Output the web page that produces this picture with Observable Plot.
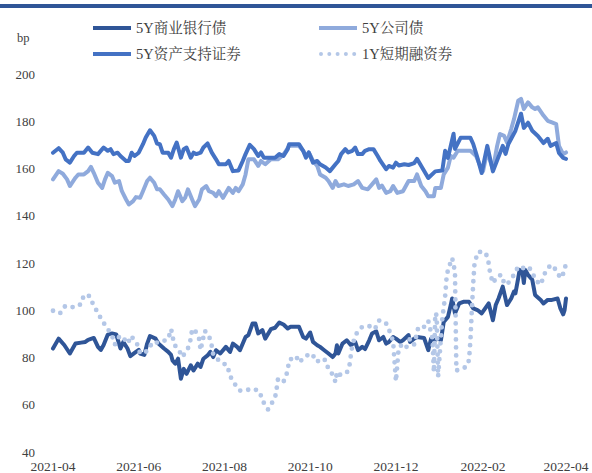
<!DOCTYPE html>
<html><head><meta charset="utf-8">
<script src="https://cdn.jsdelivr.net/npm/d3@7"></script>
<script src="https://cdn.jsdelivr.net/npm/@observablehq/plot@0.6"></script>
<style>
body{margin:0;background:#fff;}
#wrap{position:relative;width:592px;height:473px;font-family:"Liberation Serif","Noto Serif CJK SC","Noto Sans CJK SC",serif;color:#404040;overflow:hidden;}
#bar{position:absolute;left:0;top:4px;width:592px;height:4px;background:#2F5597;}
#chart{position:absolute;left:0;top:0;}
.lg{position:absolute;display:flex;align-items:center;font-size:14.5px;white-space:nowrap;line-height:1;}
.lg svg{margin-right:5px;}
#bp{position:absolute;left:17px;top:31px;font-size:12.5px;}
</style></head>
<body>
<div id="wrap">
  <div id="bar"></div>
  <div id="chart"></div>
  <div id="bp">bp</div>
  <div id="legend"></div>
</div>
<script>
// ---- data ----
const seriesNames = ["5Y商业银行债", "5Y公司债", "5Y资产支持证券", "1Y短期融资券"];
const seriesColors = ["#2F5597", "#8FAADC", "#4472C4", "#B4C7E7"];
const yTicks = [40, 60, 80, 100, 120, 140, 160, 180, 200];
const xTickLabels = ["2021-04", "2021-06", "2021-08", "2021-10", "2021-12", "2022-02", "2022-04"];

const bank = [["2021-04-01",84],["2021-04-05",88.2],["2021-04-09",85.5],["2021-04-13",81.9],["2021-04-17",86.1],["2021-04-21",86.5],["2021-04-24",86.8],["2021-04-26",87.7],["2021-04-30",88.5],["2021-05-03",84.7],["2021-05-05",83.4],["2021-05-07",85.5],["2021-05-10",89.9],["2021-05-13",90.4],["2021-05-16",90],["2021-05-19",84],["2021-05-21",86.8],["2021-05-24",84],["2021-05-26",80.8],["2021-05-30",82.6],["2021-06-01",83.4],["2021-06-02",81.9],["2021-06-05",81.3],["2021-06-07",86.1],["2021-06-09",89.3],["2021-06-13",88.2],["2021-06-15",86.1],["2021-06-19",84],["2021-06-22",82.6],["2021-06-24",81.3],["2021-06-25",79],["2021-06-27",77.6],["2021-06-29",79.7],["2021-07-01",71.2],["2021-07-03",75.4],["2021-07-05",73.3],["2021-07-08",76.9],["2021-07-10",74.7],["2021-07-13",77.6],["2021-07-15",76.2],["2021-07-17",79.7],["2021-07-20",81.1],["2021-07-22",82.6],["2021-07-24",80.4],["2021-07-26",83.3],["2021-07-29",81.9],["2021-08-02",84.7],["2021-08-05",82.6],["2021-08-07",86.1],["2021-08-10",84.7],["2021-08-12",83.3],["2021-08-16",88.9],["2021-08-18",89.7],["2021-08-21",94.6],["2021-08-23",94.6],["2021-08-25",90.4],["2021-08-28",91.8],["2021-08-30",88.2],["2021-09-03",92.2],["2021-09-06",92.8],["2021-09-09",95],["2021-09-12",94.2],["2021-09-15",92.5],["2021-09-17",93.2],["2021-09-23",93.2],["2021-09-26",88.9],["2021-09-28",88.2],["2021-10-01",90.8],["2021-10-03",86.8],["2021-10-06",85.4],["2021-10-08",84.7],["2021-10-11",83.3],["2021-10-14",81.9],["2021-10-17",80.4],["2021-10-19",81.9],["2021-10-20",85.4],["2021-10-21",81.9],["2021-10-24",86.1],["2021-10-27",87.5],["2021-10-30",85.4],["2021-11-02",86.8],["2021-11-04",83.3],["2021-11-07",84.7],["2021-11-09",83.8],["2021-11-12",87.5],["2021-11-14",90.4],["2021-11-17",91.3],["2021-11-19",87.5],["2021-11-22",88.9],["2021-11-24",86.1],["2021-11-26",86.8],["2021-11-29",88.9],["2021-12-01",88.2],["2021-12-04",86.8],["2021-12-06",87.5],["2021-12-10",89.7],["2021-12-11",86.8],["2021-12-14",88.2],["2021-12-16",88.9],["2021-12-21",88.5],["2021-12-24",83.3],["2021-12-26",88.2],["2021-12-28",87.5],["2021-12-31",88.2],["2022-01-02",87.5],["2022-01-04",95.3],["2022-01-07",97.4],["2022-01-09",102.4],["2022-01-10",105.2],["2022-01-12",98.9],["2022-01-15",103.1],["2022-01-18",103.8],["2022-01-22",103.8],["2022-01-25",101],["2022-01-28",100.3],["2022-01-31",98.9],["2022-02-05",103.1],["2022-02-08",96],["2022-02-10",102.4],["2022-02-12",105.2],["2022-02-15",110.2],["2022-02-18",102.4],["2022-02-21",105.2],["2022-02-23",108.1],["2022-02-24",107.4],["2022-02-26",113.8],["2022-02-27",117.3],["2022-03-01",116.6],["2022-03-02",111.7],["2022-03-03",117.3],["2022-03-05",115.2],["2022-03-08",113.1],["2022-03-10",106.7],["2022-03-14",104.6],["2022-03-16",103.1],["2022-03-19",104.6],["2022-03-22",104.6],["2022-03-26",105.2],["2022-03-28",101],["2022-03-30",98.5],["2022-03-31",100.3],["2022-04-01",105.2]];

const corp = [["2021-04-01",155.6],["2021-04-05",159.1],["2021-04-08",158],["2021-04-11",155.6],["2021-04-13",152.8],["2021-04-17",156.3],["2021-04-19",157.7],["2021-04-23",157.7],["2021-04-26",159.1],["2021-04-28",160.9],["2021-04-30",158.4],["2021-05-03",154.2],["2021-05-06",152],["2021-05-08",155.6],["2021-05-10",158.4],["2021-05-13",157],["2021-05-15",154.2],["2021-05-18",154.9],["2021-05-20",150.6],["2021-05-23",147.1],["2021-05-25",145],["2021-05-28",146.4],["2021-05-30",148.1],["2021-06-02",147.8],["2021-06-04",150.6],["2021-06-07",154.9],["2021-06-09",156.3],["2021-06-12",154.2],["2021-06-14",151.4],["2021-06-16",151.4],["2021-06-19",149.2],["2021-06-22",147.1],["2021-06-25",144.3],["2021-06-27",147.1],["2021-06-29",150.6],["2021-07-02",146.4],["2021-07-04",147.8],["2021-07-06",151.4],["2021-07-09",147.1],["2021-07-11",144.3],["2021-07-14",147.1],["2021-07-16",151.4],["2021-07-19",152.8],["2021-07-21",150.6],["2021-07-24",149.9],["2021-07-26",148.5],["2021-07-28",150.6],["2021-07-31",147.8],["2021-08-04",152],["2021-08-07",149.9],["2021-08-09",152],["2021-08-11",150.6],["2021-08-14",153.5],["2021-08-16",157.7],["2021-08-18",164.1],["2021-08-22",164.1],["2021-08-25",161.3],["2021-08-27",163.4],["2021-08-30",162],["2021-09-03",164.1],["2021-09-08",164.1],["2021-09-11",165.5],["2021-09-13",167],["2021-09-16",169.8],["2021-09-23",169.8],["2021-09-26",167.7],["2021-09-28",165.5],["2021-09-30",167],["2021-10-03",163.4],["2021-10-06",161.3],["2021-10-08",157.7],["2021-10-12",156.3],["2021-10-14",154.9],["2021-10-17",152],["2021-10-19",154.9],["2021-10-21",152.8],["2021-10-25",153.5],["2021-10-28",152.8],["2021-11-01",153.5],["2021-11-04",154.9],["2021-11-07",152],["2021-11-11",151.4],["2021-11-14",153.5],["2021-11-17",155.6],["2021-11-19",152],["2021-11-21",153],["2021-11-24",149.9],["2021-11-27",150.6],["2021-11-29",152.8],["2021-12-02",149.9],["2021-12-06",150.6],["2021-12-10",154.9],["2021-12-14",154.9],["2021-12-16",157.7],["2021-12-19",152.8],["2021-12-22",150.6],["2021-12-24",148.5],["2021-12-28",148.5],["2021-12-29",152],["2022-01-02",152],["2022-01-04",157.7],["2022-01-07",160.6],["2022-01-09",165.5],["2022-01-11",164.8],["2022-01-14",167.7],["2022-01-23",167.7],["2022-01-27",165.5],["2022-01-30",161.3],["2022-02-01",159.1],["2022-02-04",167.7],["2022-02-06",163.4],["2022-02-08",159.9],["2022-02-11",169.8],["2022-02-13",174.8],["2022-02-16",174],["2022-02-18",171.2],["2022-02-21",176.9],["2022-02-23",181.1],["2022-02-26",188.9],["2022-02-28",189.7],["2022-03-02",185.4],["2022-03-05",188.2],["2022-03-08",186.1],["2022-03-10",185.4],["2022-03-12",186.1],["2022-03-16",182.6],["2022-03-19",180.4],["2022-03-22",179.7],["2022-03-25",179],["2022-03-27",169.8],["2022-03-30",166.3],["2022-04-01",167]];

const abs = [["2021-04-01",166.9],["2021-04-05",168.8],["2021-04-08",166.9],["2021-04-10",164.1],["2021-04-13",162.7],["2021-04-16",165.5],["2021-04-18",166.9],["2021-04-23",166.9],["2021-04-26",169.1],["2021-04-29",166.9],["2021-05-03",166.3],["2021-05-07",169.1],["2021-05-10",167.7],["2021-05-12",168.4],["2021-05-14",166.3],["2021-05-17",166.9],["2021-05-19",165.5],["2021-05-23",163.4],["2021-05-25",163.4],["2021-05-27",166.9],["2021-05-29",165.5],["2021-06-01",166.9],["2021-06-04",170.5],["2021-06-06",173.3],["2021-06-09",176.4],["2021-06-12",174],["2021-06-14",170.8],["2021-06-16",170.5],["2021-06-18",166.9],["2021-06-22",166.9],["2021-06-24",164.8],["2021-06-26",168.4],["2021-06-28",171.2],["2021-07-01",164.8],["2021-07-03",168.4],["2021-07-05",169.1],["2021-07-08",164.8],["2021-07-10",166.9],["2021-07-12",166.3],["2021-07-15",166.9],["2021-07-17",169.1],["2021-07-20",170.8],["2021-07-23",166.9],["2021-07-26",164.1],["2021-07-28",162],["2021-08-02",162],["2021-08-04",163.4],["2021-08-07",159.1],["2021-08-11",159.4],["2021-08-14",163.4],["2021-08-16",166.3],["2021-08-19",170.2],["2021-08-22",168.4],["2021-08-25",165.5],["2021-08-27",167],["2021-08-29",164.8],["2021-09-03",164.8],["2021-09-06",164.8],["2021-09-09",166.3],["2021-09-12",165.5],["2021-09-15",168.4],["2021-09-16",170.5],["2021-09-23",170.5],["2021-09-26",167.7],["2021-09-28",164.8],["2021-09-30",167],["2021-10-03",162.7],["2021-10-06",163.4],["2021-10-08",162],["2021-10-12",160.6],["2021-10-15",159.1],["2021-10-19",162],["2021-10-21",163.4],["2021-10-23",166.3],["2021-10-26",168.4],["2021-10-28",167],["2021-10-31",167.7],["2021-11-02",169.1],["2021-11-04",166.3],["2021-11-07",166.3],["2021-11-09",167.7],["2021-11-12",168.4],["2021-11-15",168.4],["2021-11-18",165.5],["2021-11-20",163.4],["2021-11-24",159.9],["2021-11-26",161.3],["2021-11-29",160.6],["2021-12-01",162.7],["2021-12-03",161.5],["2021-12-07",162],["2021-12-10",161.7],["2021-12-14",162.5],["2021-12-16",164.3],["2021-12-19",161.3],["2021-12-24",156.2],["2021-12-29",159],["2022-01-03",159.4],["2022-01-05",167.7],["2022-01-07",164.7],["2022-01-11",174.9],["2022-01-12",168.5],["2022-01-16",173.2],["2022-01-23",173.2],["2022-01-25",170.6],["2022-01-28",164.7],["2022-01-31",158.3],["2022-02-04",169.8],["2022-02-08",159],["2022-02-15",169.8],["2022-02-17",166.4],["2022-02-19",170.6],["2022-02-24",176.2],["2022-02-28",183.4],["2022-03-02",177.4],["2022-03-05",179.6],["2022-03-08",176.2],["2022-03-12",174],["2022-03-16",171],["2022-03-19",172.8],["2022-03-21",169.8],["2022-03-25",171],["2022-03-27",166.8],["2022-03-30",164.7],["2022-04-01",164.3]];

const cp = [["2021-04-01",100],["2021-04-06",98.9],["2021-04-08",100.7],["2021-04-09",101.7],["2021-04-11",102.1],["2021-04-16",101.4],["2021-04-21",102.8],["2021-04-23",106.7],["2021-04-27",106.2],["2021-04-30",102.1],["2021-05-03",99.1],["2021-05-06",95.7],["2021-05-09",93.2],["2021-05-12",90.4],["2021-05-14",88],["2021-05-15",85.7],["2021-05-18",88.9],["2021-05-20",89.4],["2021-05-24",86.1],["2021-05-27",89.4],["2021-05-28",88],["2021-05-31",85.7],["2021-06-02",81.9],["2021-06-07",82.9],["2021-06-11",86.8],["2021-06-14",86.5],["2021-06-17",86.8],["2021-06-22",88],["2021-06-24",92.2],["2021-06-25",89.9],["2021-06-26",85.7],["2021-06-29",84],["2021-07-02",80.4],["2021-07-06",84],["2021-07-08",88],["2021-07-09",92.2],["2021-07-11",91.8],["2021-07-14",88],["2021-07-15",83.3],["2021-07-18",91.5],["2021-07-21",89.4],["2021-07-23",85],["2021-07-24",81.5],["2021-07-29",78.3],["2021-08-03",76.9],["2021-08-05",72.3],["2021-08-09",68.4],["2021-08-12",66.2],["2021-08-17",66.5],["2021-08-22",66.9],["2021-08-26",65.8],["2021-08-28",62],["2021-09-01",58.2],["2021-09-03",60.2],["2021-09-06",63.2],["2021-09-07",66.5],["2021-09-08",70.8],["2021-09-11",69.4],["2021-09-13",70.8],["2021-09-15",74.8],["2021-09-16",79.1],["2021-09-21",80.8],["2021-09-23",78.1],["2021-09-28",80.9],["2021-10-02",81.9],["2021-10-06",78.3],["2021-10-08",79.7],["2021-10-12",79.1],["2021-10-14",75.2],["2021-10-17",73],["2021-10-19",69.8],["2021-10-20",74.1],["2021-10-22",72.9],["2021-10-27",73.6],["2021-10-29",77.1],["2021-10-30",81.5],["2021-10-31",85.4],["2021-11-02",89.3],["2021-11-04",91.4],["2021-11-07",93.2],["2021-11-12",93.5],["2021-11-16",92.2],["2021-11-19",95.9],["2021-11-21",94.9],["2021-11-24",94.6],["2021-11-27",90.6],["2021-11-29",87],["2021-12-01",70.1],["2021-12-03",84.5],["2021-12-05",85.4],["2021-12-08",84],["2021-12-11",88.2],["2021-12-14",85.7],["2021-12-17",93.2],["2021-12-21",93.2],["2021-12-24",95.7],["2021-12-25",93.2],["2021-12-27",88.2],["2021-12-28",74],["2021-12-29",99],["2021-12-30",98],["2021-12-31",72],["2022-01-03",96.7],["2022-01-05",106],["2022-01-06",113.8],["2022-01-07",117.3],["2022-01-10",122.3],["2022-01-12",116.6],["2022-01-13",74.7],["2022-01-20",76.2],["2022-01-22",79.1],["2022-01-23",87.5],["2022-01-24",100.3],["2022-01-25",111.7],["2022-01-26",120.9],["2022-01-29",125.1],["2022-02-01",124.4],["2022-02-03",124.4],["2022-02-05",120.1],["2022-02-06",115.9],["2022-02-08",111.7],["2022-02-11",114.5],["2022-02-14",115.2],["2022-02-16",111.7],["2022-02-18",111],["2022-02-23",115.2],["2022-02-26",118.7],["2022-03-01",118],["2022-03-05",118.7],["2022-03-08",116.6],["2022-03-10",113.1],["2022-03-14",111],["2022-03-17",115.9],["2022-03-21",119.4],["2022-03-25",117.3],["2022-03-28",113.8],["2022-03-31",116.6],["2022-04-01",120.9]];

// ---- build ----
const parse = d3.utcParse("%Y-%m-%d");
const parseM = d3.utcParse("%Y-%m");
const rows = arr => arr.map(([d, v]) => ({date: parse(d), value: v}));
const fontFam = '"Liberation Serif","Noto Serif CJK SC","Noto Sans CJK SC",serif';
const xTicks = xTickLabels.map(parseM);

const chart = Plot.plot({
  width: 592,
  height: 473,
  marginTop: 74,
  marginBottom: 21,
  marginLeft: 52.5,
  marginRight: 26.5,
  style: {fontFamily: fontFam, fontSize: "13px", color: "#404040", background: "transparent", overflow: "visible"},
  x: {type: "utc", domain: [xTicks[0], xTicks[xTicks.length - 1]]},
  y: {domain: [yTicks[0], yTicks[yTicks.length - 1]]},
  marks: [
    Plot.axisX(xTicks, {tickSize: 0, tickPadding: 9, fontSize: 13.5, label: null, tickFormat: d3.utcFormat("%Y-%m")}),
    Plot.axisY(yTicks, {tickSize: 0, tickPadding: 18, fontSize: 13, label: null}),
    Plot.line(rows(bank), {x: "date", y: "value", stroke: seriesColors[0], strokeWidth: 4, strokeLinejoin: "round"}),
    Plot.line(rows(corp), {x: "date", y: "value", stroke: seriesColors[1], strokeWidth: 4, strokeLinejoin: "round"}),
    Plot.line(rows(abs), {x: "date", y: "value", stroke: seriesColors[2], strokeWidth: 4, strokeLinejoin: "round"}),
    Plot.line(rows(cp), {x: "date", y: "value", stroke: seriesColors[3], strokeWidth: 4.8, strokeLinecap: "round", strokeDasharray: "0 8"})
  ]
});
document.getElementById("chart").appendChild(chart);

// ---- legend ----
const legendPos = [[93, 28], [319, 28], [93, 54], [319, 54]];
const legend = document.getElementById("legend");
seriesNames.forEach((name, i) => {
  const [lx, ly] = legendPos[i];
  const div = document.createElement("div");
  div.className = "lg";
  div.style.left = lx + "px";
  div.style.top = (ly - 8) + "px";
  div.style.height = "16px";
  const dotted = i === 3;
  div.innerHTML = `<svg width="38" height="8"><line x1="${dotted ? 2 : 0}" y1="4" x2="${dotted ? 36 : 38}" y2="4" stroke="${seriesColors[i]}" stroke-width="${dotted ? 4 : 3.8}" ${dotted ? 'stroke-linecap="round" stroke-dasharray="0 8.3"' : ''}/></svg><span>${name}</span>`;
  legend.appendChild(div);
});
</script>
</body></html>
